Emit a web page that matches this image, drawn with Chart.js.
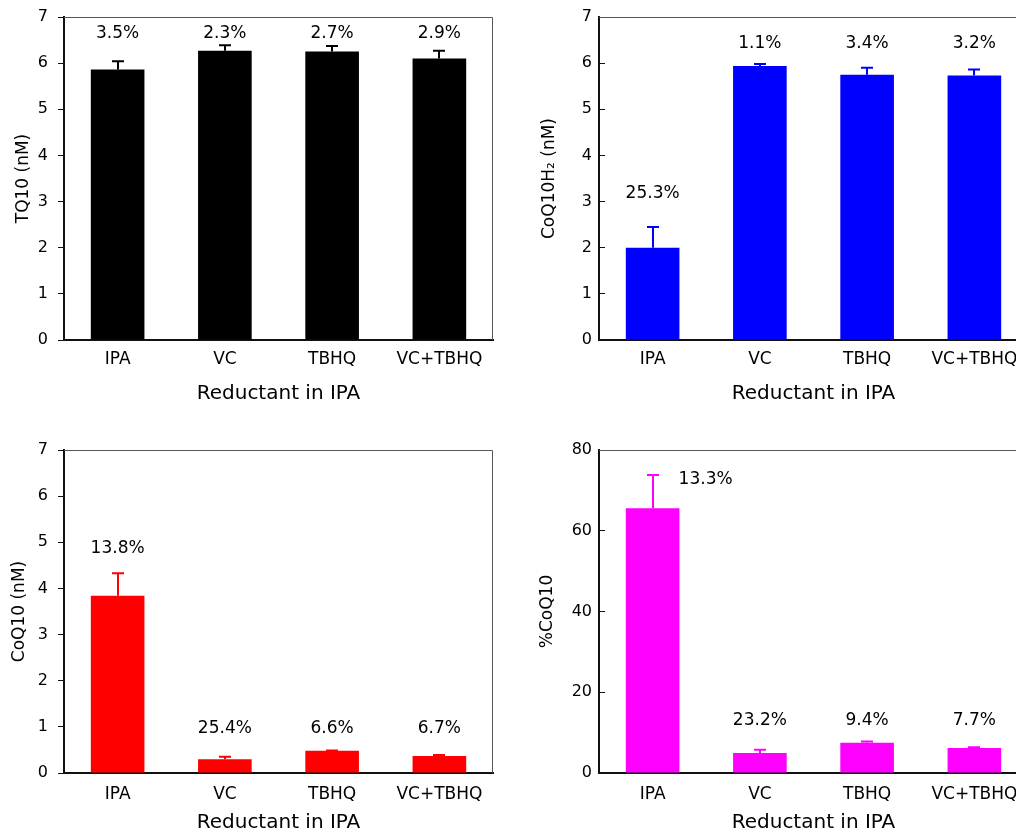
<!DOCTYPE html>
<html>
<head>
<meta charset="utf-8">
<script src="https://cdn.jsdelivr.net/npm/chart.js@4"></script>
<style>
  html, body { margin:0; padding:0; background:#fff; overflow:hidden; width:1016px; height:837px; }
  .panel { position:absolute; }
</style>
</head>
<body>
<div class="panel" style="left:0;top:0"><canvas id="tl" width="520" height="415"></canvas></div>
<div class="panel" style="left:520px;top:0;width:520px"><canvas id="tr" width="520" height="415"></canvas></div>
<div class="panel" style="left:0;top:415px"><canvas id="bl" width="520" height="422"></canvas></div>
<div class="panel" style="left:520px;top:415px;width:520px"><canvas id="br" width="520" height="422"></canvas></div>
<script>
// data
const categories = ['IPA', 'VC', 'TBHQ', 'VC+TBHQ'];

const tq10     = [5.86, 6.27, 6.25, 6.10];
const tq10Err  = [0.18, 0.12, 0.12, 0.17];
const tq10Cv   = ['3.5%', '2.3%', '2.7%', '2.9%'];

const coq10h2    = [2.00, 5.94, 5.75, 5.73];
const coq10h2Err = [0.45, 0.04, 0.15, 0.13];
const coq10h2Cv  = ['25.3%', '1.1%', '3.4%', '3.2%'];

const coq10    = [3.84, 0.30, 0.48, 0.37];
const coq10Err = [0.49, 0.05, 0.01, 0.02];
const coq10Cv  = ['13.8%', '25.4%', '6.6%', '6.7%'];

const pctCoq10    = [65.6, 4.95, 7.5, 6.2];
const pctCoq10Err = [8.2, 0.8, 0.3, 0.15];
const pctCoq10Cv  = ['13.3%', '23.2%', '9.4%', '7.7%'];

const FONT = '"DejaVu Sans", Verdana, sans-serif';

// error bars + CV% labels + top/right frame
const extras = {
  id: 'extras',
  afterDatasetsDraw(chart) {
    const p = chart.options.plugins.extras;
    const {ctx, chartArea: a} = chart;
    const x = chart.scales.x, y = chart.scales.y;
    const ds = chart.data.datasets[0];
    ctx.save();
    // frame
    ctx.strokeStyle = '#555';
    ctx.lineWidth = 1;
    ctx.beginPath();
    ctx.moveTo(a.left, a.top + 0.5);
    ctx.lineTo(a.right - 0.5, a.top + 0.5);
    if (p.rightFrame) ctx.lineTo(a.right - 0.5, a.bottom);
    ctx.stroke();
    // error bars
    ctx.strokeStyle = ds.backgroundColor;
    ctx.lineWidth = 2;
    ds.data.forEach((v, i) => {
      const cx = Math.round(x.getPixelForValue(i));
      const y0 = y.getPixelForValue(v);
      const y1 = y.getPixelForValue(v + p.err[i]);
      ctx.beginPath();
      ctx.moveTo(cx, y0);
      ctx.lineTo(cx, y1);
      ctx.moveTo(cx - 6, y1);
      ctx.lineTo(cx + 6, y1);
      ctx.stroke();
    });
    // labels
    ctx.fillStyle = '#000';
    ctx.font = '17px ' + FONT;
    ctx.textAlign = 'center';
    ctx.textBaseline = 'middle';
    p.cv.forEach((t, i) => {
      const dx = p.labelDx ? p.labelDx[i] : 0;
      ctx.fillText(t, x.getPixelForValue(i) + dx, y.getPixelForValue(p.labelY[i]));
    });
    ctx.restore();
  }
};

function makePanel(id, cfg) {
  const right = cfg.side === 'right';
  new Chart(document.getElementById(id), {
    type: 'bar',
    data: {
      labels: categories,
      datasets: [{ data: cfg.values, backgroundColor: cfg.color, borderWidth: 0,
                   barPercentage: 0.5, categoryPercentage: 1.0 }]
    },
    options: {
      responsive: false,
      animation: false,
      layout: { padding: cfg.padding },
      plugins: {
        legend: { display: false },
        tooltip: { enabled: false },
        extras: { err: cfg.err, cv: cfg.cv, labelY: cfg.labelY, labelDx: cfg.labelDx, rightFrame: !right }
      },
      scales: {
        x: {
          grid: { display: false, drawTicks: false },
          border: { display: true, color: '#111', width: 2 },
          ticks: { color: '#000', font: { family: FONT, size: 17 }, padding: cfg.xTickPad, maxRotation: 0 },
          title: { display: true, text: 'Reductant in IPA', color: '#000',
                   font: { family: FONT, size: 20 }, padding: { top: 0, bottom: cfg.xTitlePad } },
          afterFit(s) { s.height = cfg.xHeight; s.paddingLeft = 0; s.paddingRight = 0; }
        },
        y: {
          min: 0, max: cfg.max,
          grid: { drawOnChartArea: false, drawTicks: true, tickLength: right ? -6 : 6, color: '#111' },
          border: { display: true, color: '#111', width: 2 },
          ticks: { stepSize: cfg.step, color: '#000', font: { family: FONT, size: 16 }, padding: right ? 13 : 10 },
          title: { display: true, text: cfg.yTitle, color: '#000',
                   font: { family: FONT, size: 17 }, padding: { top: cfg.yTitlePad, bottom: 0 } },
          afterFit(s) { s.width = cfg.yWidth; s.paddingTop = 0; s.paddingBottom = 0; }
        }
      }
    },
    plugins: [extras]
  });
}

makePanel('tl', {
  values: tq10, err: tq10Err, cv: tq10Cv, color: '#000000',
  max: 7, step: 1, yTitle: 'TQ10 (nM)',
  labelY: [6.65, 6.65, 6.65, 6.65],
  padding: { top: 17, right: 27, left: 0, bottom: 9 },
  yWidth: 64, xHeight: 66, xTickPad: 9.7, xTitlePad: 0, yTitlePad: 13.8
});
makePanel('tr', {
  side: 'right',
  values: coq10h2, err: coq10h2Err, cv: coq10h2Cv, color: '#0000ff',
  max: 7, step: 1, yTitle: 'CoQ10H\u2082 (nM)',
  labelY: [3.18, 6.43, 6.43, 6.43],
  padding: { top: 17, right: 12, left: 0, bottom: 9 },
  yWidth: 79, xHeight: 66, xTickPad: 9.7, xTitlePad: 0, yTitlePad: 19.8
});
makePanel('bl', {
  values: coq10, err: coq10Err, cv: coq10Cv, color: '#ff0000',
  max: 7, step: 1, yTitle: 'CoQ10 (nM)',
  labelY: [4.87, 0.97, 0.97, 0.97],
  padding: { top: 35, right: 27, left: 0, bottom: 0 },
  yWidth: 64, xHeight: 64, xTickPad: 11.2, xTitlePad: 2, yTitlePad: 9.3
});
makePanel('br', {
  side: 'right',
  values: pctCoq10, err: pctCoq10Err, cv: pctCoq10Cv, color: '#ff00ff',
  max: 80, step: 20, yTitle: '%CoQ10',
  labelY: [72.6, 13.1, 13.1, 13.1], labelDx: [53, 0, 0, 0],
  padding: { top: 35, right: 12, left: 0, bottom: 0 },
  yWidth: 79, xHeight: 64, xTickPad: 11.2, xTitlePad: 2, yTitlePad: 17.8
});
</script>
</body>
</html>
